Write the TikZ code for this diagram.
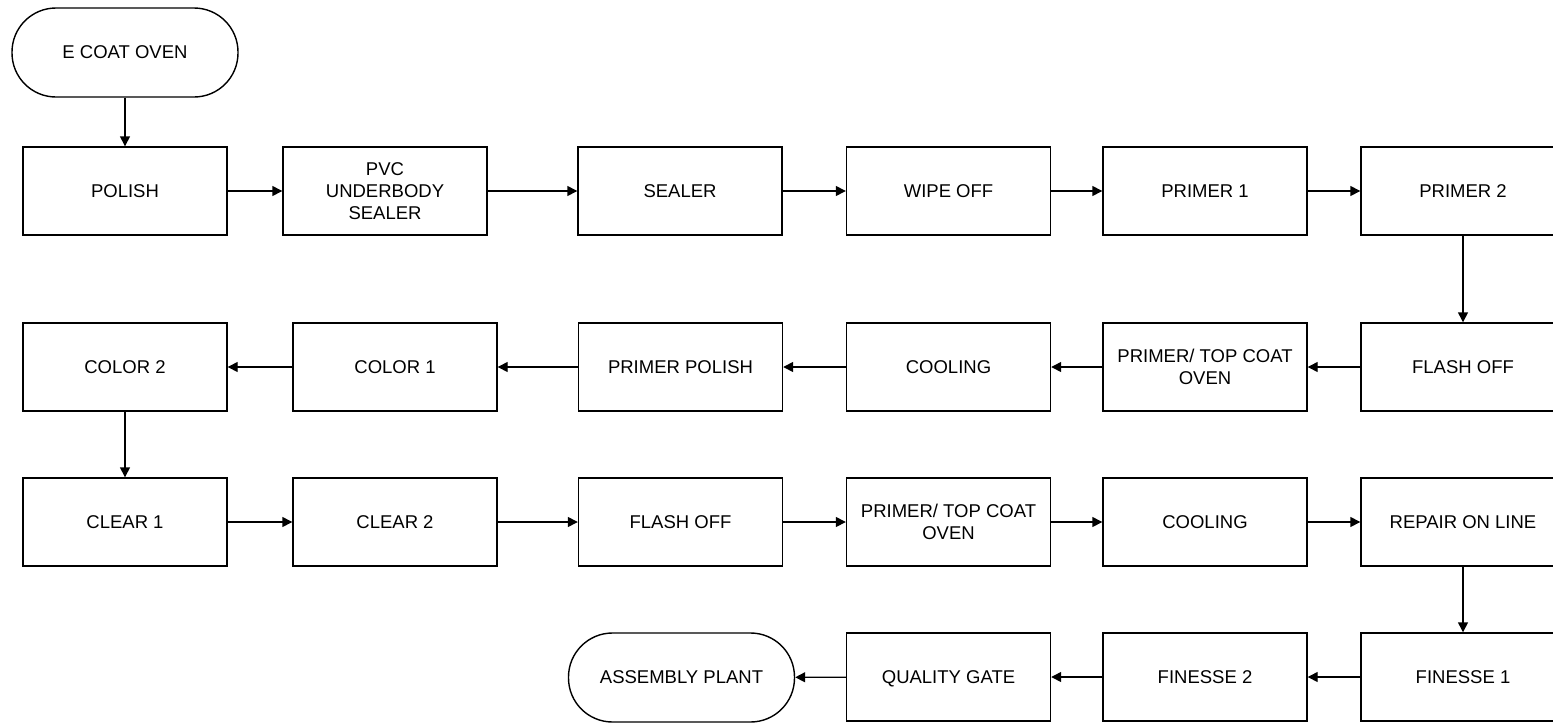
\documentclass[tikz,border=0pt]{standalone}
\usepackage{fontspec}
\setmainfont{Liberation Sans}
\usetikzlibrary{arrows.meta}
\tikzset{
  stage/.style={draw, line width=1.4pt, minimum width=204pt, minimum height=88pt,
                align=center, inner sep=0pt, font=\fontsize{18.5}{22}\selectfont},
  endpoint/.style={stage, rounded corners=44pt, minimum width=226pt, minimum height=89pt},
  flow/.style={-{Triangle[length=10pt,width=10pt]}, line width=1.4pt},
}
\begin{document}
\begin{tikzpicture}[x=1pt, y=-1pt]
    \useasboundingbox (0,0) rectangle (1553,723);
    \clip (0,0) rectangle (1553,723);
    \node[endpoint] (ecoat) at (125, 52.5) {E COAT OVEN};
    \node[stage] (polish) at (125, 191) {POLISH};
    \node[stage] (pvc) at (385, 191) {PVC\\UNDERBODY\\SEALER};
    \node[stage] (sealer) at (680, 191) {SEALER};
    \node[stage] (wipe) at (948.5, 191) {WIPE OFF};
    \node[stage] (primer1) at (1205, 191) {PRIMER 1};
    \node[stage] (primer2) at (1463, 191) {PRIMER 2};
    \node[stage] (flash1) at (1463, 367) {FLASH OFF};
    \node[stage] (oven1) at (1205, 367) {PRIMER/ TOP COAT\\OVEN};
    \node[stage] (cool1) at (948.5, 367) {COOLING};
    \node[stage] (ppolish) at (680.5, 367) {PRIMER POLISH};
    \node[stage] (color1) at (395, 367) {COLOR 1};
    \node[stage] (color2) at (125, 367) {COLOR 2};
    \node[stage] (clear1) at (125, 522) {CLEAR 1};
    \node[stage] (clear2) at (395, 522) {CLEAR 2};
    \node[stage] (flash2) at (680.5, 522) {FLASH OFF};
    \node[stage] (oven2) at (948.5, 522) {PRIMER/ TOP COAT\\OVEN};
    \node[stage] (cool2) at (1205, 522) {COOLING};
    \node[stage] (repair) at (1463, 522) {REPAIR ON LINE};
    \node[stage] (finesse1) at (1463, 677) {FINESSE 1};
    \node[stage] (finesse2) at (1205, 677) {FINESSE 2};
    \node[stage, text depth=0pt] (gate) at (948.5, 677) {QUALITY GATE};
    \node[endpoint] (plant) at (681.5, 677.5) {ASSEMBLY PLANT};
    \draw[flow] (ecoat) -- (polish);
    \draw[flow] (polish) -- (pvc);
    \draw[flow] (pvc) -- (sealer);
    \draw[flow] (sealer) -- (wipe);
    \draw[flow] (wipe) -- (primer1);
    \draw[flow] (primer1) -- (primer2);
    \draw[flow] (primer2) -- (flash1);
    \draw[flow] (flash1) -- (oven1);
    \draw[flow] (oven1) -- (cool1);
    \draw[flow] (cool1) -- (ppolish);
    \draw[flow] (ppolish) -- (color1);
    \draw[flow] (color1) -- (color2);
    \draw[flow] (color2) -- (clear1);
    \draw[flow] (clear1) -- (clear2);
    \draw[flow] (clear2) -- (flash2);
    \draw[flow] (flash2) -- (oven2);
    \draw[flow] (oven2) -- (cool2);
    \draw[flow] (cool2) -- (repair);
    \draw[flow] (repair) -- (finesse1);
    \draw[flow] (finesse1) -- (finesse2);
    \draw[flow] (finesse2) -- (gate);
    \draw[flow] (gate) -- (plant);
  \end{tikzpicture}
\end{document}
